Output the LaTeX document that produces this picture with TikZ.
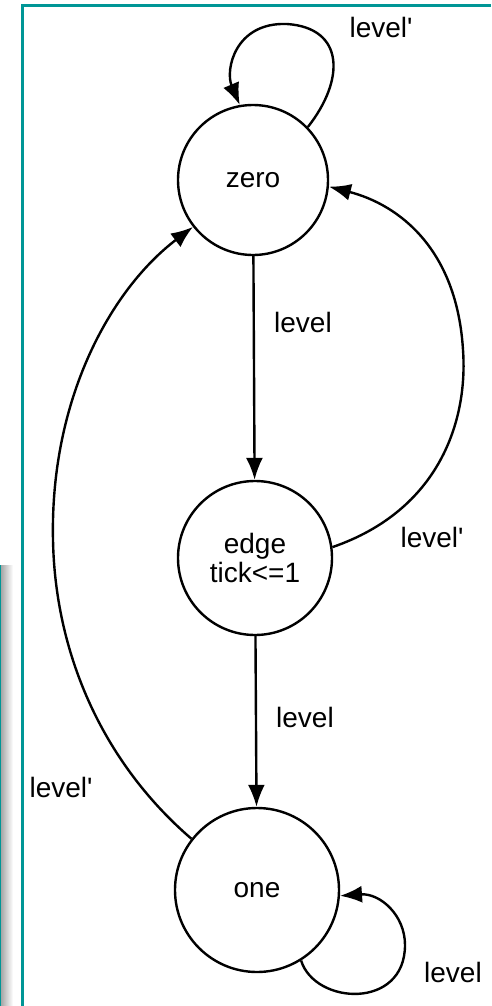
\documentclass[tikz,border=0pt]{standalone}
\usepackage{fontspec}
\newfontfamily\lab{Liberation Sans}
\usetikzlibrary{arrows.meta}
\definecolor{frameteal}{RGB}{0,150,150}
\tikzset{
  state/.style={draw, line width=2.4pt, circle, inner sep=0pt, font=\lab\fontsize{28}{31}\selectfont, align=center},
  lbl/.style={inner sep=0pt, font=\lab\fontsize{28}{31}\selectfont},
  conn/.style={line width=2.4pt, -{Latex[length=22pt,width=17pt]}}
}
\begin{document}
\begin{tikzpicture}[x=1pt,y=-1pt]
\useasboundingbox (0,0) rectangle (491,1006);
% frame and side bar
\shade[left color=gray!75, right color=white] (0,565) rectangle (13,1006);
\draw[frameteal, line width=1pt] (0.5,565) -- (0.5,1006);
\draw[frameteal, line width=3pt] (22,1006) -- (22,6) -- (491,6);
% states
\node[state, minimum size=150pt] (zero) at (253,180) {zero};
\node[state, minimum size=154pt] (edge) at (255,558) {edge\\[-2pt]tick<=1};
\node[state, minimum size=164pt] (one) at (257,890) {one};
% labels
\node[lbl] (l1) at (381,27) {level'};
\node[lbl] (l2) at (303,322) {level};
\node[lbl] (l3) at (432,537) {level'};
\node[lbl] (l4) at (305,717) {level};
\node[lbl] (l5) at (61,787) {level'};
\node[lbl] (l6) at (453,972) {level};
% transitions
\draw[conn] (zero.44) .. controls (345,80) and (345,28) .. (287,24)
  .. controls (235,22) and (225,70) .. (zero.100);
\draw[conn] (zero) -- (edge);
\draw[conn] (edge.8) .. controls (440,510) and (468,420) .. (463,350)
  .. controls (457,250) and (400,205) .. (zero.-5);
\draw[conn] (edge) -- (one);
\draw[conn] (one.142) .. controls (100,760) and (55,650) .. (53,540)
  .. controls (50,400) and (110,290) .. (zero.218);
\draw[conn] (one.-58) .. controls (315,1005) and (405,1010) .. (405,945)
  .. controls (405,915) and (380,893) .. (one.-4);
\end{tikzpicture}
\end{document}
